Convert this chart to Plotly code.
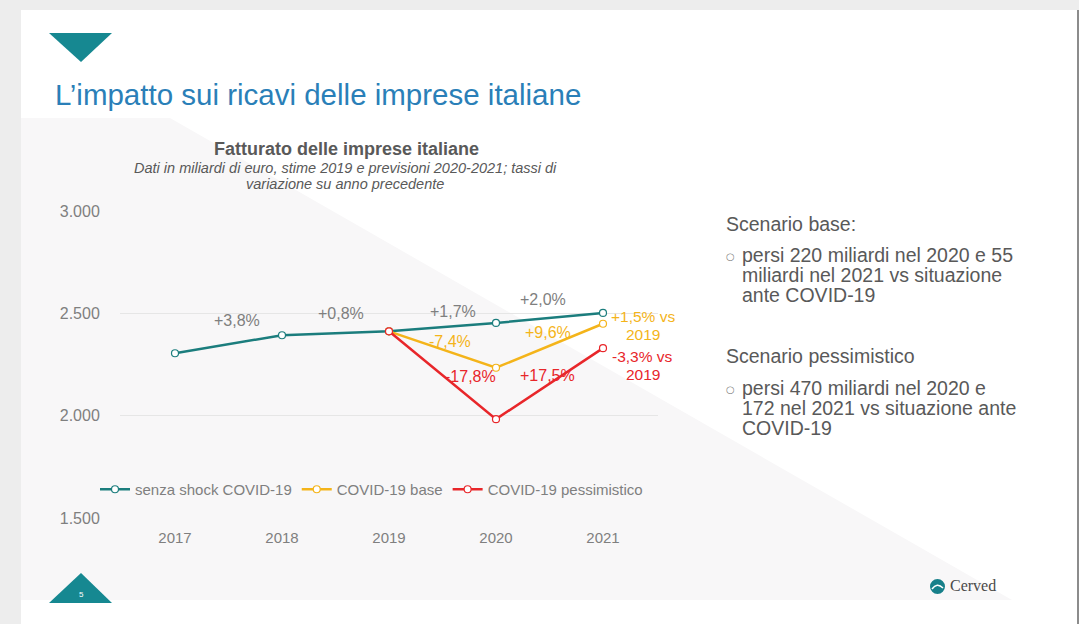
import plotly.graph_objects as go

W, H = 1079, 624

# ---- data ----
years = [2017, 2018, 2019, 2020, 2021]
senza_shock = [2305, 2393, 2412, 2453, 2502]
covid_base_years = [2019, 2020, 2021]
covid_base = [2412, 2234, 2449]
covid_pess_years = [2019, 2020, 2021]
covid_pess = [2412, 1983, 2330]

y_ticks = [1500, 2000, 2500, 3000]

# growth labels: (text, x, y, series)
growth_labels = [
    ("+3,8%", 2017.58, 2463, "grey"),
    ("+0,8%", 2018.55, 2497, "grey"),
    ("+1,7%", 2019.60, 2507, "grey"),
    ("+2,0%", 2020.44, 2570, "grey"),
    ("-7,4%", 2019.57, 2360, "base"),
    ("+9,6%", 2020.49, 2404, "base"),
    ("-17,8%", 2019.76, 2189, "pess"),
    ("+17,5%", 2020.48, 2194, "pess"),
]
vs_labels = [
    (["+1,5% vs", "2019"], 2021.37, [2485, 2398], "base"),
    (["-3,3% vs", "2019"], 2021.37, [2290, 2202], "pess"),
]

TEAL = "#1b7d7d"
YELLOW = "#f4b41a"
RED = "#e8262a"
GREY_TXT = "#7f7f7f"
DARK_TXT = "#595959"
ACCENT = "#168891"
colors = {"grey": GREY_TXT, "base": YELLOW, "pess": RED}

FONT = "Liberation Sans, Arial, sans-serif"


def px(x):
    return x / W


def py(y):
    return 1 - y / H


def note(x, y, text, size, color, family=FONT, xanchor="center", ref="paper"):
    if ref == "paper":
        x, y = px(x), py(y)
        xr, yr = "paper", "paper"
    else:
        xr, yr = "x", "y"
    return dict(x=x, y=y, xref=xr, yref=yr, text=text, showarrow=False,
                xanchor=xanchor, yanchor="middle",
                font=dict(family=family, size=size, color=color))


fig = go.Figure()

for name, xs, ys, col in [
    ("senza shock COVID-19", years, senza_shock, TEAL),
    ("COVID-19 base", covid_base_years, covid_base, YELLOW),
    ("COVID-19 pessimistico", covid_pess_years, covid_pess, RED),
]:
    fig.add_trace(go.Scatter(
        x=xs, y=ys, mode="lines+markers", name=name,
        line=dict(color=col, width=2.5),
        marker=dict(symbol="circle", size=7, color="white", line=dict(color=col, width=1.2)),
    ))

annotations = []
for text, x, y, s in growth_labels:
    annotations.append(note(x, y, text, 16, colors[s], ref="data"))
for lines, x, ys, s in vs_labels:
    for t, y in zip(lines, ys):
        annotations.append(note(x, y, t, 15.5, colors[s], ref="data"))

# chart title block
annotations.append(note(346, 149, "<b>Fatturato delle imprese italiane</b>", 18, DARK_TXT))
annotations.append(note(345, 168, "<i>Dati in miliardi di euro, stime 2019 e previsioni 2020-2021; tassi di</i>",
                        14.5, DARK_TXT))
annotations.append(note(345, 184, "<i>variazione su anno precedente</i>", 14.5, DARK_TXT))

# slide title
annotations.append(note(53, 94, "L’impatto sui ricavi delle imprese italiane", 29.5, "#2a7fb8",
                        xanchor="left"))

# side commentary
side_text = [
    ("Scenario base:", 224, False),
    ("persi 220 miliardi nel 2020 e 55", 255, True),
    ("miliardi nel 2021 vs situazione", 275, False),
    ("ante COVID-19", 295, False),
    ("Scenario pessimistico", 356, False),
    ("persi 470 miliardi nel 2020 e", 388, True),
    ("172 nel 2021 vs situazione ante", 408, False),
    ("COVID-19", 428, False),
]
for t, yy, bullet in side_text:
    x0 = 724 if t.startswith("Scenario") else 740
    annotations.append(note(x0, yy, t, 19.5, DARK_TXT, xanchor="left"))
    if bullet:
        annotations.append(note(730, yy + 1, "○", 10, GREY_TXT, family="DejaVu Sans"))

# page number and logo text
annotations.append(note(81, 594, "5", 8, "white"))
annotations.append(note(948, 585, "Cerved", 16, "#4a4a4a", family="Liberation Serif, serif",
                        xanchor="left"))


def path(points):
    return "M " + " L ".join(f"{px(a):.5f},{py(b):.5f}" for a, b in points) + " Z"


shapes = [
    # slide page
    dict(type="rect", xref="paper", yref="paper", x0=px(21), x1=px(1077), y0=py(624), y1=py(10),
         fillcolor="white", line=dict(width=0), layer="below"),
    dict(type="rect", xref="paper", yref="paper", x0=px(1077), x1=1, y0=0, y1=py(10),
         fillcolor="#8c8c8c", line=dict(width=0), layer="below"),
    # light diagonal backdrop
    dict(type="path", xref="paper", yref="paper",
         path=path([(21, 118), (170, 118), (1012, 600), (21, 600)]),
         fillcolor="#f8f7f8", line=dict(width=0), layer="below"),
    # header triangle
    dict(type="path", xref="paper", yref="paper",
         path=path([(49, 33), (112, 33), (81, 62)]),
         fillcolor=ACCENT, line=dict(width=0), layer="below"),
    # footer triangle
    dict(type="path", xref="paper", yref="paper",
         path=path([(49, 603), (112, 603), (81, 573)]),
         fillcolor=ACCENT, line=dict(width=0), layer="below"),
    # logo mark
    dict(type="circle", xref="paper", yref="paper", x0=px(930), x1=px(945), y0=py(594), y1=py(579),
         fillcolor="#17808a", line=dict(width=0), layer="below"),
    dict(type="path", xref="paper", yref="paper",
         path="M {:.5f},{:.5f} Q {:.5f},{:.5f} {:.5f},{:.5f}".format(
             px(932), py(589), px(937), py(582), px(943), py(588)),
         line=dict(color="white", width=1.5), layer="below"),
]

fig.update_layout(
    width=W, height=H, autosize=False,
    margin=dict(l=0, r=0, t=0, b=0, pad=0, autoexpand=False),
    paper_bgcolor="#ededed",
    plot_bgcolor="rgba(0,0,0,0)",
    separators=",.",
    showlegend=True,
    legend=dict(orientation="h", x=px(95), y=py(473), xanchor="left", yanchor="top",
                font=dict(family=FONT, size=15, color=GREY_TXT), bgcolor="rgba(0,0,0,0)",
                itemwidth=30, tracegroupgap=0),
    xaxis=dict(domain=[px(120), px(658)], range=[2016.486, 2021.514],
               tickvals=years, showgrid=False, zeroline=False, showline=False,
               ticks="outside", ticklen=6, tickcolor="rgba(0,0,0,0)",
               tickfont=dict(family=FONT, size=15, color=GREY_TXT)),
    yaxis=dict(domain=[py(518), py(211)], range=[1500, 3000],
               tickvals=y_ticks, tickformat=",d", showgrid=True, gridcolor="#e6e6e6",
               gridwidth=1, zeroline=False, showline=False,
               ticks="outside", ticklen=16, tickcolor="rgba(0,0,0,0)",
               tickfont=dict(family=FONT, size=16, color=GREY_TXT)),
    annotations=annotations,
    shapes=shapes,
)

fig.write_html(
    "out.html",
    config={"responsive": False, "displayModeBar": False},
    post_script="document.body.style.margin='0';document.body.style.overflow='hidden';",
)
